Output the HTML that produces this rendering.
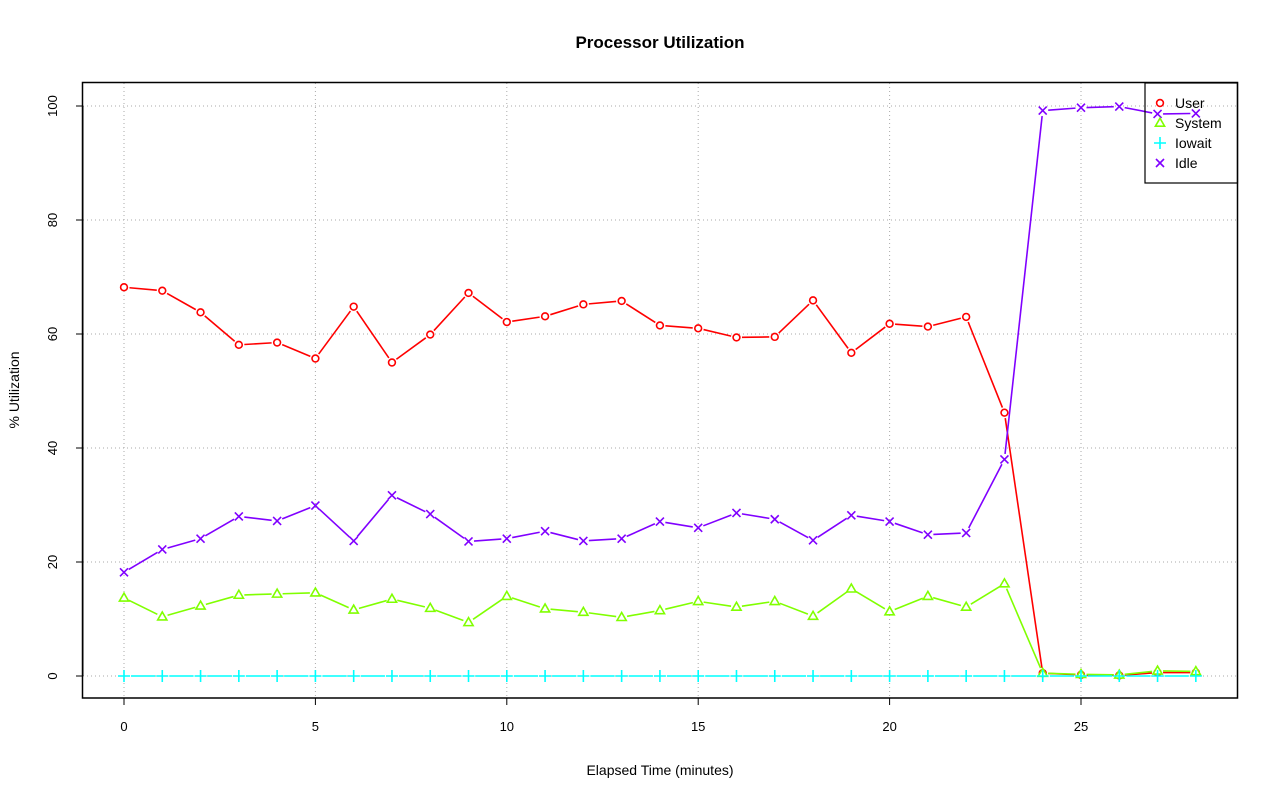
<!DOCTYPE html>
<html><head><style>body{margin:0;background:#fff}svg{display:block}text{font-family:"Liberation Sans",sans-serif}</style></head>
<body>
<svg id="s" width="1280" height="801" xmlns="http://www.w3.org/2000/svg">
<text x="660" y="48" text-anchor="middle" font-size="17" font-weight="bold">Processor Utilization</text>
<text x="660" y="775" text-anchor="middle" font-size="14">Elapsed Time (minutes)</text>
<text transform="translate(19,390) rotate(-90)" text-anchor="middle" font-size="14">% Utilization</text>
<g font-size="13" text-anchor="middle">
<text x="124" y="731">0</text><text x="315.4" y="731">5</text><text x="506.8" y="731">10</text><text x="698.2" y="731">15</text><text x="889.6" y="731">20</text><text x="1081" y="731">25</text>
</g>
<g font-size="13" text-anchor="middle">
<text transform="translate(57,676) rotate(-90)">0</text>
<text transform="translate(57,562) rotate(-90)">20</text>
<text transform="translate(57,448) rotate(-90)">40</text>
<text transform="translate(57,334) rotate(-90)">60</text>
<text transform="translate(57,220) rotate(-90)">80</text>
<text transform="translate(57,106) rotate(-90)">100</text>
</g>
<g id="g"></g>
<rect x="82.5" y="82.5" width="1155" height="615.5" fill="none" stroke="#000" stroke-width="1.5"/>
<rect x="1145" y="83" width="92.5" height="100" fill="none" stroke="#000" stroke-width="1.2"/>
<g font-size="14">
<text x="1175" y="108">User</text><text x="1175" y="128">System</text><text x="1175" y="148">Iowait</text><text x="1175" y="168">Idle</text>
</g>
</svg>
<script>
var g=document.getElementById('g'),h='';
function X(i){return 124+i*38.28}function Y(v){return 676-v*5.7}
for(var i=0;i<=25;i+=5)h+='<line x1="'+X(i)+'" y1="83" x2="'+X(i)+'" y2="698" stroke="#aaa" stroke-dasharray="1,3"/>';
for(var v=0;v<=100;v+=20)h+='<line x1="83" y1="'+Y(v)+'" x2="1237" y2="'+Y(v)+'" stroke="#aaa" stroke-dasharray="1,3"/>';
var ax='';for(var i=0;i<=25;i+=5)ax+='<line x1="'+X(i)+'" y1="698" x2="'+X(i)+'" y2="705" stroke="#000"/>';
for(var v=0;v<=100;v+=20)ax+='<line x1="76" y1="'+Y(v)+'" x2="83" y2="'+Y(v)+'" stroke="#000"/>';
ax+='<line x1="124" y1="698" x2="1081" y2="698" stroke="#000"/><line x1="83" y1="106" x2="83" y2="676" stroke="#000"/>';
h+=ax;
var U=[68.2,67.6,63.8,58.1,58.5,55.7,64.8,55,59.9,67.2,62.1,63.1,65.2,65.8,61.5,61,59.4,59.5,65.9,56.7,61.8,61.3,63,46.2,0.5,0.2,0.1,0.6,0.6];
var S=[13.7,10.4,12.3,14.2,14.4,14.6,11.6,13.5,11.9,9.4,14,11.8,11.2,10.3,11.5,13.1,12.1,13.1,10.5,15.3,11.3,14,12.1,16.2,0.5,0.3,0.2,0.9,0.8];
var I=[18.2,22.2,24.1,28,27.2,29.9,23.7,31.7,28.4,23.6,24.1,25.4,23.7,24.1,27.1,26,28.6,27.5,23.8,28.2,27.1,24.8,25.1,38,99.2,99.7,99.9,98.6,98.7];
var W=[];for(var i=0;i<29;i++)W.push(0);
function mk(t,x,y,c){
 if(t=='o')return '<circle cx="'+x+'" cy="'+y+'" r="3.4" fill="#fff" stroke="'+c+'" stroke-width="1.6"/>';
 if(t=='t')return '<polygon points="'+x+','+(y-4.8)+' '+(x-4.6)+','+(y+3.2)+' '+(x+4.6)+','+(y+3.2)+'" fill="#fff" stroke="'+c+'" stroke-width="1.6"/>';
 if(t=='p')return '<path d="M'+(x-6)+' '+y+'h12M'+x+' '+(y-6)+'v12" stroke="'+c+'" stroke-width="1.6"/>';
 return '<path d="M'+(x-4)+' '+(y-4)+'l8 8M'+(x+4)+' '+(y-4)+'l-8 8" stroke="'+c+'" stroke-width="1.6"/>';
}
function ser(d,t,c){var gap=t=='p'?7:5.5,s='';
 for(var i=0;i<d.length-1;i++){var x1=X(i),y1=Y(d[i]),x2=X(i+1),y2=Y(d[i+1]),dx=x2-x1,dy=y2-y1,L=Math.hypot(dx,dy);
  if(L>2*gap){var ux=dx/L,uy=dy/L;s+='<line x1="'+(x1+ux*gap)+'" y1="'+(y1+uy*gap)+'" x2="'+(x2-ux*gap)+'" y2="'+(y2-uy*gap)+'" stroke="'+c+'" stroke-width="1.6"/>';}}
 for(var i=0;i<d.length;i++)s+=mk(t,X(i),Y(d[i]),c);return s;}
h+=ser(U,'o','#ff0000')+ser(S,'t','#80ff00')+ser(W,'p','#00ffff')+ser(I,'x','#8000ff');
h+=mk('o',1160,103,'#ff0000')+mk('t',1160,123,'#80ff00')+mk('p',1160,143,'#00ffff')+mk('x',1160,163,'#8000ff');
g.innerHTML=h;
</script>
</body></html>
